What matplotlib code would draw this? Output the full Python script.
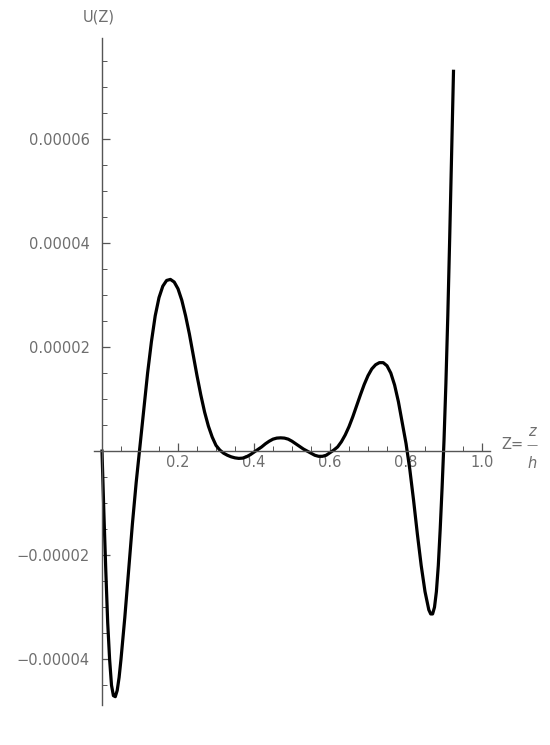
import numpy as np
import matplotlib
matplotlib.use("Agg")
import matplotlib.pyplot as plt

# Z = z/h and U(Z)
z_vals = [0.000, 0.005, 0.010, 0.015, 0.020, 0.025, 0.030, 0.035, 0.040, 0.045,
          0.050, 0.060, 0.070, 0.080, 0.090, 0.100, 0.110, 0.120, 0.130, 0.140,
          0.150, 0.160, 0.170, 0.180, 0.190, 0.200, 0.210, 0.220, 0.230, 0.240,
          0.250, 0.260, 0.270, 0.280, 0.290, 0.300, 0.310, 0.320, 0.330, 0.340,
          0.350, 0.360, 0.370, 0.380, 0.390, 0.400, 0.410, 0.420, 0.430, 0.440,
          0.450, 0.460, 0.470, 0.480, 0.490, 0.500, 0.510, 0.520, 0.530, 0.540,
          0.550, 0.560, 0.570, 0.580, 0.590, 0.600, 0.610, 0.620, 0.630, 0.640,
          0.650, 0.660, 0.670, 0.680, 0.690, 0.700, 0.710, 0.720, 0.730, 0.740,
          0.750, 0.760, 0.770, 0.780, 0.790, 0.800, 0.810, 0.820, 0.830, 0.840,
          0.850, 0.860, 0.865, 0.870, 0.875, 0.880, 0.885, 0.890, 0.895, 0.900,
          0.905, 0.910, 0.915, 0.920, 0.925]
u_vals = [0.0, -1.2e-5, -2.3e-5, -3.3e-5, -4.0e-5, -4.5e-5, -4.7e-5, -4.72e-5, -4.6e-5, -4.35e-5,
          -4.0e-5, -3.2e-5, -2.3e-5, -1.4e-5, -6e-6, 1e-6, 8e-6, 1.5e-5, 2.1e-5, 2.6e-5,
          2.95e-5, 3.17e-5, 3.28e-5, 3.3e-5, 3.25e-5, 3.12e-5, 2.9e-5, 2.6e-5, 2.25e-5, 1.85e-5,
          1.45e-5, 1.08e-5, 7.5e-6, 4.8e-6, 2.7e-6, 1.1e-6, 2e-7, -4e-7, -8e-7, -1.1e-6,
          -1.3e-6, -1.4e-6, -1.35e-6, -1.1e-6, -7e-7, -2e-7, 3e-7, 8e-7, 1.4e-6, 1.9e-6,
          2.3e-6, 2.5e-6, 2.55e-6, 2.5e-6, 2.3e-6, 1.9e-6, 1.4e-6, 9e-7, 4e-7, 0.0,
          -4e-7, -8e-7, -1.0e-6, -1.0e-6, -8e-7, -3e-7, 2e-7, 8e-7, 1.8e-6, 3.1e-6,
          4.7e-6, 6.6e-6, 8.7e-6, 1.08e-5, 1.28e-5, 1.45e-5, 1.58e-5, 1.66e-5, 1.7e-5, 1.7e-5,
          1.64e-5, 1.5e-5, 1.27e-5, 9.5e-6, 5.5e-6, 1.5e-6, -3.5e-6, -9.5e-6, -1.6e-5, -2.2e-5,
          -2.7e-5, -3.05e-5, -3.13e-5, -3.13e-5, -3.0e-5, -2.7e-5, -2.2e-5, -1.5e-5, -7e-6, 2e-6,
          1.3e-5, 2.6e-5, 4.1e-5, 5.7e-5, 7.3e-5]

x_major = [0.2, 0.4, 0.6, 0.8, 1.0]
x_labels = ["0.2", "0.4", "0.6", "0.8", "1.0"]
y_major = [-0.00004, -0.00002, 0.00002, 0.00004, 0.00006]
y_labels = ["\u22120.00004", "\u22120.00002", "0.00002", "0.00004", "0.00006"]

W, H = 550, 745
axis_col = "#555555"
text_col = "#6e6e6e"

fig = plt.figure(figsize=(W / 100, H / 100), dpi=100)
ax = fig.add_axes([94.4 / W, 40 / H, 395.2 / W, 667 / H])

ax.plot(z_vals, u_vals, color="black", lw=2.3, solid_joinstyle="round")

ax.set_xlim(-0.02, 1.02)
ax.set_ylim(-4.88e-5, 7.94e-5)

for s in ["top", "right"]:
    ax.spines[s].set_visible(False)
ax.spines["left"].set_position(("data", 0))
ax.spines["bottom"].set_position(("data", 0))
for s in ["left", "bottom"]:
    ax.spines[s].set_color(axis_col)
    ax.spines[s].set_linewidth(1.0)

ax.set_xticks(x_major)
ax.set_xticklabels(x_labels)
ax.set_xticks([v for v in np.arange(0.05, 1.001, 0.05) if not np.isclose(v % 0.2, 0) and not np.isclose(v % 0.2, 0.2)], minor=True)
ax.set_yticks(y_major)
ax.set_yticklabels(y_labels)
ax.set_yticks([v * 1e-6 for v in range(-45, 80, 5) if v % 20 != 0], minor=True)

ax.tick_params(which="both", direction="in", colors=axis_col, labelcolor=text_col, labelsize=10.5)
ax.tick_params(which="major", length=6, width=0.9)
ax.tick_params(which="minor", length=3.5, width=0.7)
ax.tick_params(axis="x", pad=3)
ax.tick_params(axis="y", pad=9)

def px(x, y):
    return x / W, 1 - y / H

fig.text(*px(99, 17), "U(Z)", color=text_col, fontsize=10.5, ha="center", va="center")
fig.text(*px(512, 444), "Z=", color=text_col, fontsize=10.5, ha="center", va="center")
fig.text(*px(532, 431), "z", color=text_col, fontsize=10.5, ha="center", va="center", fontstyle="italic")
fig.text(*px(532, 445), "\u2014", color=text_col, fontsize=8, ha="center", va="center")
fig.text(*px(532, 463), "h", color=text_col, fontsize=10.5, ha="center", va="center", fontstyle="italic")

fig.savefig("out.png", dpi=100)
